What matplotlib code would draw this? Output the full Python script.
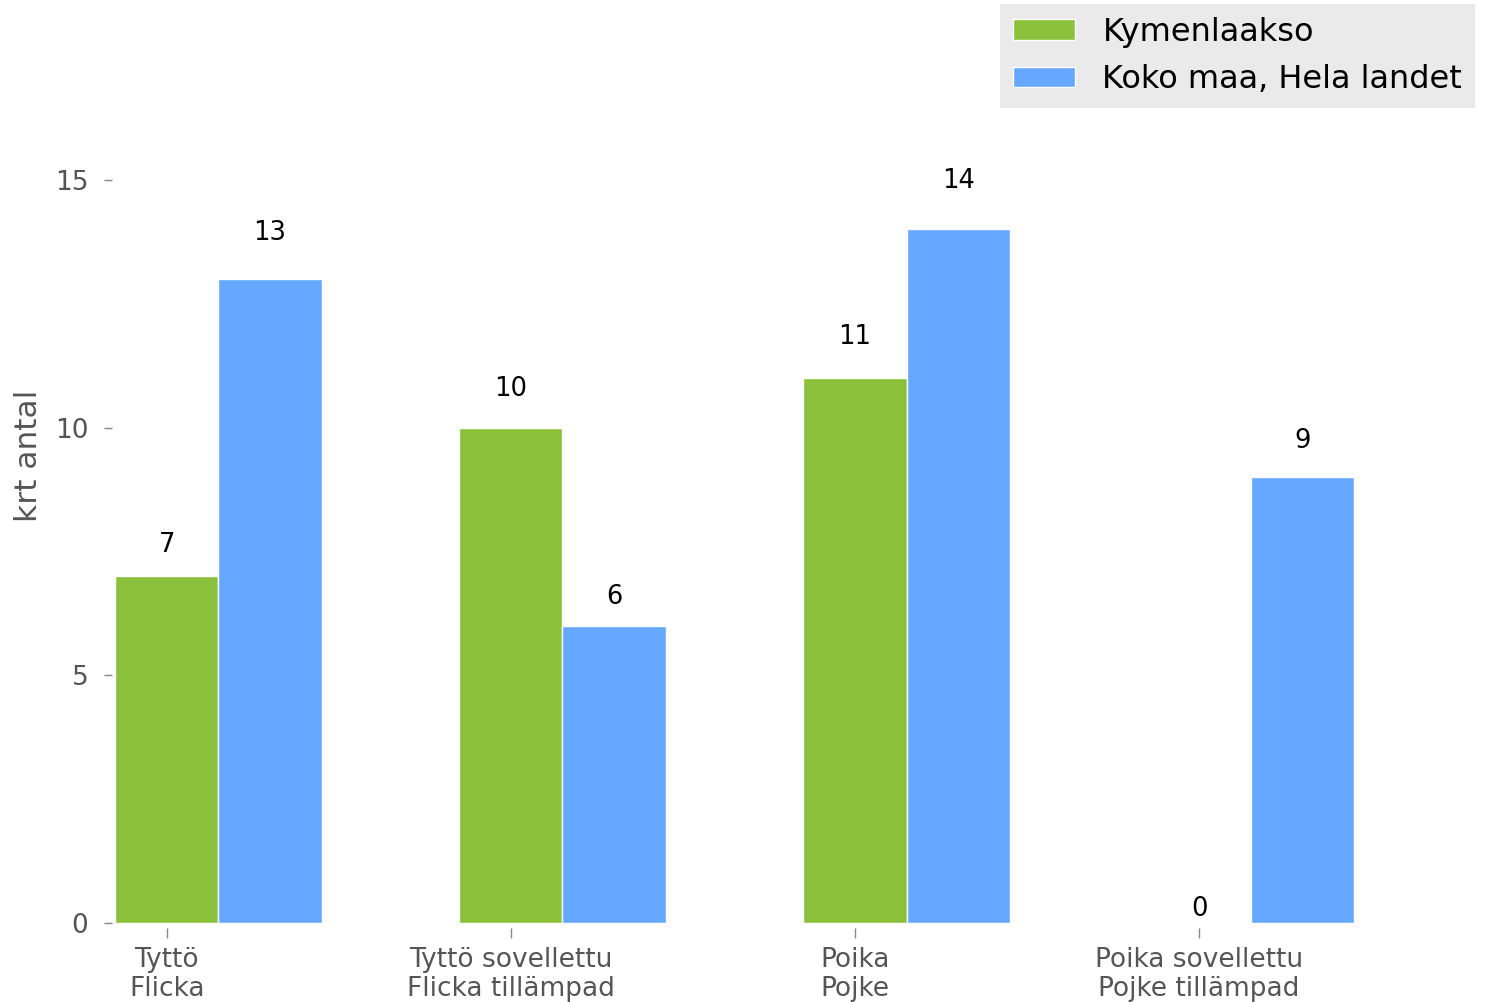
import matplotlib
matplotlib.use("Agg")
import matplotlib.pyplot as plt
import numpy as np

# ryhmät ja arvot
ryhmat = ["Tyttö\nFlicka", "Tyttö sovellettu\nFlicka tillämpad",
          "Poika\nPojke", "Poika sovellettu\nPojke tillämpad"]
kymenlaakso = [7, 10, 11, 0]
koko_maa = [13, 6, 14, 9]
sarjat = ["Kymenlaakso", "Koko maa, Hela landet"]

vihrea = "#8BC13A"
sininen = "#66A8FF"
harmaa = "#555555"

fig = plt.figure(figsize=(14.88, 10.02), dpi=100)
ax = fig.add_axes([0.0753, 0.0739, 0.8367, 0.7465])

x = np.arange(len(ryhmat))
w = 0.3
b1 = ax.bar(x, kymenlaakso, w, color=vihrea, edgecolor="white", linewidth=1, label=sarjat[0])
b2 = ax.bar(x + w, koko_maa, w, color=sininen, edgecolor="white", linewidth=1, label=sarjat[1])

# arvot pylväiden yläpuolelle
for bars, vals in ((b1, kymenlaakso), (b2, koko_maa)):
    for r, v in zip(bars, vals):
        ax.text(r.get_x() + r.get_width() / 2, v * 1.05 + 0.02, str(v),
                ha="center", va="bottom", fontsize=18.5, color="black")

ax.set_xlim(-0.159, 3.459)
ax.set_ylim(-0.1, 15)
ax.set_xticks(x)
ax.set_xticklabels(ryhmat, linespacing=1.15)
ax.set_yticks([0, 5, 10, 15])

for s in ax.spines.values():
    s.set_visible(False)
ax.tick_params(axis="y", length=6, width=1, color="#888888", labelcolor=harmaa,
               labelsize=19, pad=11)
ax.tick_params(axis="x", length=7, width=1, color="#888888", labelcolor=harmaa,
               labelsize=19, pad=7)

ax.set_ylabel("krt antal", fontsize=22.5, color=harmaa)
ax.yaxis.set_label_coords(-0.0555, 0.631)

leg = fig.legend(loc="upper right", bbox_to_anchor=(1475 / 1488, 1 - 4 / 1002),
                 fontsize=23, frameon=True, fancybox=False, facecolor="#E5E5E5",
                 edgecolor="#E5E5E5", handlelength=1.95, handleheight=0.62,
                 handletextpad=0.85, labelspacing=0.52, borderpad=0.4,
                 borderaxespad=0)
leg.get_frame().set_linewidth(0)

fig.savefig("out.png", dpi=100)
